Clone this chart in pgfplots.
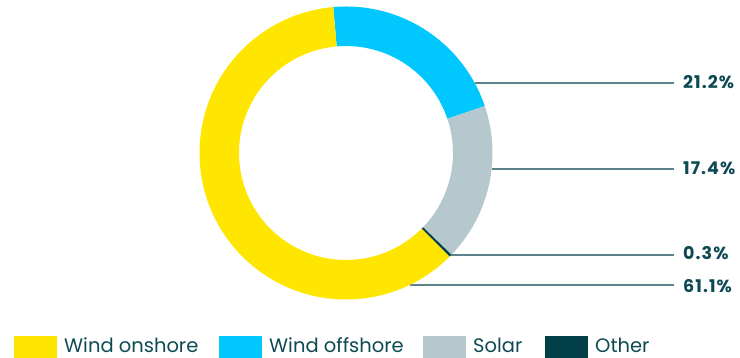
\documentclass[border=0pt]{standalone}
\usepackage{pgfplots}
\pgfplotsset{compat=1.18}
\usepackage{pgfplotstable}
\usepackage{fontspec}
\setmainfont{Poppins}
\definecolor{onshore}{HTML}{FFE600}
\definecolor{offshore}{HTML}{00C8FF}
\definecolor{solar}{HTML}{B5C8CE}
\definecolor{other}{HTML}{023F49}
\definecolor{txt}{HTML}{0E4A53}
\definecolor{lead}{HTML}{5B8389}

% share of each technology, clockwise from the top
\pgfplotstableread{
value
21.2
17.4
0.3
61.1
}\sharetable

\newcommand\ring[3]{%
  \fill[#1] (axis cs:346,205) ++(#2:146.5pt) arc[start angle=#2,end angle=#3,radius=146.5pt]
     -- ++({#3+180}:39.5pt) arc[start angle=#3,end angle=#2,radius=107pt] -- cycle;}
\newcommand\leader[3]{% y of line, baseline of label, value
  \draw[lead,line width=1.3pt] (axis cs:{346+sqrt(146.5^2-(205-#1)^2)},#1) -- (axis cs:674,#1);
  \node[anchor=base west,inner sep=0pt,text=txt,font=\bfseries\fontsize{17.5}{17.5}\selectfont\addfontfeature{LetterSpace=6}] at (axis cs:683,#2) {\pgfmathprintnumber[fixed,fixed zerofill,precision=1,assume math mode=true]{#3}\%};}
\newcommand\legitem[4]{% x0, x1, color, text
  \fill[#3] (axis cs:#1,0) rectangle (axis cs:#2,22);
  \node[anchor=base west,inner sep=0pt,text=txt,font=\fontsize{19.5}{19.5}\selectfont] at (axis cs:{#2+7},5) {#4};}

\begin{document}
\begin{tikzpicture}
\pgfplotstablegetelem{0}{value}\of\sharetable \let\vA\pgfplotsretval
\pgfplotstablegetelem{1}{value}\of\sharetable \let\vB\pgfplotsretval
\pgfplotstablegetelem{2}{value}\of\sharetable \let\vC\pgfplotsretval
\pgfplotstablegetelem{3}{value}\of\sharetable \let\vD\pgfplotsretval
\pgfmathsetmacro\aA{95}
\pgfmathsetmacro\aB{\aA-3.6*\vA}
\pgfmathsetmacro\aC{\aB-3.6*\vB}
\pgfmathsetmacro\aD{\aC-3.6*\vC}
\pgfmathsetmacro\aE{\aD-3.6*\vD}
\begin{axis}[width=740pt,height=358pt,scale only axis,
  xmin=0,xmax=740,ymin=0,ymax=358,hide axis,clip=false]
\path (axis cs:0,0) rectangle (axis cs:740,358);
\leader{275}{269.7}{\vA}
\leader{189}{183.7}{\vB}
\leader{103}{98}{\vC}
\leader{73}{65.7}{\vD}
\ring{offshore}{\aA}{\aB}
\ring{solar}{\aB}{\aC}
\ring{other}{\aC}{\aD}
\ring{onshore}{\aD}{\aE}
\legitem{14}{57}{onshore}{Wind onshore}
\legitem{219}{262}{offshore}{Wind offshore}
\legitem{423}{466}{solar}{Solar}
\legitem{545}{588}{other}{Other}
\end{axis}
\end{tikzpicture}
\end{document}
